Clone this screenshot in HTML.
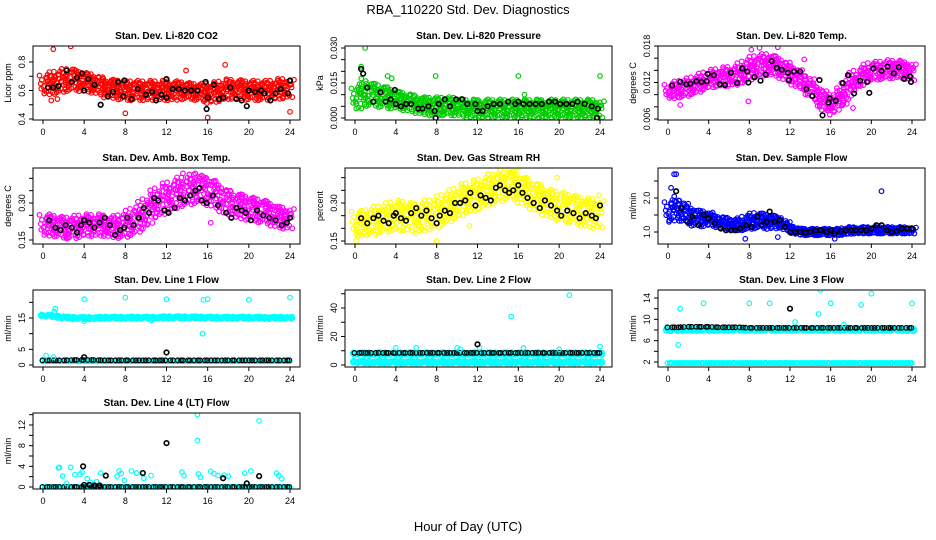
<!DOCTYPE html>
<html><head><meta charset="utf-8"><style>
body{margin:0;background:#fff}
svg{display:block;font-family:"Liberation Sans",sans-serif}
</style></head><body>
<svg id="chart" width="936" height="540" viewBox="0 0 936 540">
<text x="468" y="14" text-anchor="middle" font-size="13">RBA_110220  Std. Dev. Diagnostics</text>
<text x="468" y="531" text-anchor="middle" font-size="13">Hour of Day (UTC)</text>
</svg>
<script>
// ---- data (hour of day grids and estimated values) ----
const hours = [0,1,2,3,4,5,6,7,8,9,10,11,12,13,14,15,16,17,18,19,20,21,22,23,24];
const xTicks = [0,4,8,12,16,20,24];

const co2Center = [0.64,0.65,0.67,0.68,0.66,0.65,0.62,0.61,0.60,0.60,0.60,0.60,0.60,0.60,0.60,0.59,0.58,0.59,0.61,0.61,0.60,0.60,0.60,0.61,0.62];
const co2Spread = [0.07,0.08,0.08,0.08,0.07,0.07,0.07,0.07,0.07,0.07,0.07,0.07,0.07,0.07,0.06,0.06,0.07,0.07,0.07,0.07,0.07,0.07,0.07,0.07,0.07];
const co2OutX = [1,2.7,8,16,17.7,24,13.9,0.8,1.4];
const co2OutY = [0.89,0.91,0.44,0.41,0.78,0.45,0.74,0.53,0.54];
const co2BlackX = [0.5,1,1.5,2.3,2.8,3.3,3.8,4,4.4,5,5.6,6.3,6.8,7.3,7.9,7.8,8.6,9.2,10,10.6,11,11.5,12,12,12.6,13.2,13.8,14.4,15,15.8,16,15.9,16.6,17.1,17.5,18.2,18.8,19.3,19.8,20,20.6,21.2,21.5,22.1,22.6,23.1,23.8,24];
const co2BlackY = [0.62,0.62,0.63,0.74,0.66,0.69,0.72,0.6,0.68,0.64,0.5,0.56,0.59,0.66,0.67,0.56,0.54,0.61,0.57,0.59,0.53,0.57,0.55,0.68,0.61,0.61,0.6,0.6,0.6,0.66,0.55,0.47,0.64,0.54,0.55,0.62,0.54,0.53,0.49,0.6,0.59,0.6,0.58,0.53,0.58,0.61,0.58,0.67];

const presCenter = [0.008,0.011,0.010,0.009,0.008,0.007,0.006,0.005,0.005,0.005,0.005,0.004,0.004,0.004,0.004,0.004,0.004,0.004,0.004,0.004,0.004,0.004,0.004,0.004,0.004];
const presSpread = [0.005,0.006,0.005,0.005,0.004,0.004,0.004,0.004,0.004,0.004,0.004,0.004,0.004,0.004,0.004,0.004,0.004,0.004,0.004,0.004,0.004,0.004,0.004,0.004,0.004];
const presOutX = [0.2,1,0.6,7.9,16,24,3.2,3.6,16.6];
const presOutY = [0.012,0.030,0.022,0.018,0.018,0.018,0.018,0.017,0.010];
const presBlackX = [0.6,0.8,1.2,1.8,2.5,3,3.5,3.9,4,4.5,5,5.5,6.2,6.6,7.2,7.8,7.9,8.2,8.8,9.3,9.9,10.5,11,11.8,12,12.5,13,13.6,14.2,15,15.7,16,16.5,17.1,17.7,18.3,19,19.6,20.1,20.7,21.3,21.8,22.5,23.2,23.8,23.7];
const presBlackY = [0.021,0.019,0.013,0.007,0.011,0.007,0.008,0.012,0.006,0.005,0.006,0.006,0.004,0.004,0.005,0.003,0.000,0.006,0.008,0.005,0.008,0.008,0.006,0.006,0.003,0.003,0.005,0.006,0.006,0.007,0.006,0.007,0.006,0.006,0.006,0.006,0.007,0.007,0.006,0.006,0.006,0.007,0.006,0.005,0.004,0.000];

const tempCenter = [0.0105,0.0108,0.0112,0.0118,0.0125,0.0128,0.0130,0.0133,0.0142,0.0148,0.0150,0.0145,0.0135,0.0125,0.0112,0.0095,0.0083,0.0095,0.0118,0.0130,0.0138,0.0140,0.0142,0.0142,0.0138];
const tempSpread = [0.0012,0.0014,0.0014,0.0014,0.0014,0.0015,0.0016,0.0017,0.0018,0.0018,0.0018,0.0018,0.0017,0.0017,0.0017,0.0017,0.0016,0.0016,0.0016,0.0015,0.0015,0.0015,0.0015,0.0015,0.0015];
const tempOutX = [1.2,8.2,9,10.8,15.1,17.6,18.2,7.9,13.4];
const tempOutY = [0.0083,0.0174,0.0177,0.0178,0.0075,0.0085,0.0078,0.0089,0.0158];
const tempBlackX = [0.4,1.2,1.8,2.2,2.8,3.3,3.8,3.9,4.5,5.1,5.6,6.2,6.8,7.3,7.8,7.9,8.5,9.1,9.6,10.2,10.7,11.2,11.8,11.9,12.4,13,13.6,14.2,14.9,15.2,15.8,15.9,16.5,17.2,17.7,18.3,18.9,19.6,19.8,20.2,21,21.6,22.2,22.7,23.2,23.8,23.9];
const tempBlackY = [0.0115,0.0121,0.0117,0.0118,0.0122,0.0121,0.0122,0.0134,0.0132,0.0117,0.0116,0.0136,0.0119,0.0143,0.0138,0.0120,0.0129,0.0123,0.0133,0.0155,0.0144,0.0141,0.0136,0.0124,0.0138,0.0138,0.0109,0.0098,0.0124,0.0066,0.0087,0.0094,0.0090,0.0119,0.0132,0.0102,0.0123,0.0121,0.0103,0.0143,0.0139,0.0146,0.0135,0.0145,0.0126,0.0130,0.0121];

const ambCenter = [0.21,0.21,0.20,0.20,0.21,0.21,0.21,0.20,0.21,0.23,0.26,0.30,0.32,0.34,0.35,0.36,0.35,0.33,0.30,0.29,0.28,0.27,0.26,0.24,0.24];
const ambSpread = [0.045,0.045,0.045,0.045,0.045,0.045,0.045,0.045,0.05,0.055,0.06,0.06,0.06,0.06,0.06,0.06,0.06,0.06,0.055,0.055,0.05,0.05,0.05,0.045,0.045];
const ambOutX = [8,14.8,15.8,13.6,16.3,2.3];
const ambOutY = [0.11,0.42,0.40,0.42,0.22,0.16];
const ambBlackX = [0.6,1.2,1.7,2.2,2.8,3.3,3.7,4,4.5,5,5.5,6,6.5,7,7.5,7.9,8.2,8.8,9.3,9.8,10.3,10.8,11.2,11.8,12.2,12.8,13.3,13.8,14.3,14.8,15.2,15.4,15.9,16.5,17,17.8,18.3,18.8,19.3,19.7,20.2,20.8,21.4,22,22.6,23.2,23.7,24];
const ambBlackY = [0.23,0.20,0.19,0.21,0.20,0.18,0.21,0.23,0.22,0.20,0.22,0.24,0.21,0.17,0.19,0.20,0.24,0.21,0.24,0.28,0.26,0.32,0.31,0.27,0.26,0.28,0.32,0.31,0.33,0.35,0.36,0.31,0.30,0.33,0.29,0.26,0.24,0.28,0.27,0.26,0.23,0.27,0.25,0.24,0.23,0.21,0.22,0.24];

const rhCenter = [0.22,0.22,0.23,0.24,0.25,0.25,0.24,0.25,0.26,0.28,0.30,0.32,0.33,0.35,0.36,0.38,0.36,0.34,0.32,0.30,0.29,0.28,0.27,0.26,0.26];
const rhSpread = [0.05,0.05,0.055,0.055,0.06,0.06,0.06,0.06,0.06,0.06,0.06,0.06,0.06,0.06,0.06,0.06,0.06,0.06,0.06,0.06,0.06,0.06,0.06,0.06,0.06];
const rhOutX = [0.1,0.3,8,11.2,15.8,16.3,16,23.9,19.8];
const rhOutY = [0.15,0.17,0.15,0.21,0.45,0.47,0.44,0.33,0.40];
const rhBlackX = [0.6,1.2,1.8,2.3,2.8,3.3,3.8,4,4.5,5,5.5,6,6.5,7,7.5,8,8.3,8.8,9.3,9.8,10.3,10.8,11.3,11.8,12.3,12.8,13.3,13.8,14.2,14.7,15.1,15.5,16,16.4,16.9,17.5,18.1,18.6,19.2,19.8,20.2,20.8,21.4,22,22.6,23.2,23.6,24];
const rhBlackY = [0.24,0.22,0.24,0.25,0.23,0.22,0.25,0.26,0.24,0.23,0.26,0.28,0.25,0.27,0.24,0.22,0.25,0.27,0.26,0.30,0.30,0.31,0.34,0.29,0.33,0.32,0.31,0.36,0.37,0.35,0.34,0.35,0.37,0.34,0.32,0.30,0.28,0.31,0.29,0.27,0.25,0.27,0.26,0.24,0.26,0.25,0.24,0.29];

const flowCenter = [1.6,1.7,1.5,1.4,1.4,1.3,1.25,1.2,1.3,1.35,1.3,1.3,1.1,1.0,1.0,1.0,1.0,1.0,1.05,1.05,1.05,1.05,1.05,1.05,1.05];
const flowSpread = [0.3,0.35,0.3,0.25,0.22,0.18,0.18,0.18,0.22,0.24,0.22,0.18,0.12,0.1,0.1,0.1,0.1,0.1,0.1,0.1,0.1,0.1,0.1,0.1,0.1];
const flowOutX = [0.6,0.8,21,0.3,0.1,7.6,10.8,16.4];
const flowOutY = [2.7,2.7,2.2,2.3,1.3,0.8,0.85,0.8];
const flowBlackX = [0.8,1.3,1.9,2.4,3,3.5,4,4.6,5.2,5.7,6.2,6.6,7.1,7.7,8.2,8.8,9.2,9.7,10,10.5,11,11.5,12,12.5,13,13.5,14,14.5,15,15.6,16,16.4,17,17.5,18,18.5,19,19.5,20,20.5,21,21.5,22,22.5,23,23.5,24];
const flowBlackY = [2.2,1.7,1.3,1.45,1.2,1.5,1.4,1.25,1.1,1.05,1.05,1.05,1.1,1.2,1.15,1.45,1.2,1.3,1.6,1.3,1.35,1.15,1.0,1.0,1.0,0.98,1.0,1.05,1.05,1.0,1.05,0.95,1.02,1.05,1.05,1.05,1.05,1.05,1.1,1.2,1.2,1.05,1.0,1.02,1.1,1.1,1.1];

const l1HighCenter = [15.8,15.6,15.2,15.0,15.0,15.0,15.1,15.1,15.1,15.1,15.1,15.1,15.2,15.2,15.2,15.2,15.1,15.1,15.1,15.1,15.1,15.1,15.0,15.1,15.1];
const l1LowCenter = [1.2,1.2,1.2,1.2,1.2,1.2,1.2,1.2,1.2,1.2,1.2,1.2,1.2,1.2,1.2,1.2,1.2,1.2,1.2,1.2,1.2,1.2,1.2,1.2,1.2];
const l1BlackCenter = [1.5,1.5,1.5,1.6,1.6,1.6,1.5,1.5,1.5,1.5,1.5,1.5,1.5,1.5,1.5,1.5,1.5,1.5,1.5,1.5,1.5,1.5,1.5,1.5,1.5];
const l1OutX = [4,8,12,15.6,16,20,24,1.2,1.1,15.5,0.3,1,4,10.5];
const l1OutY = [21,21.5,21,20.8,21,20.8,21.5,18,17,10,3,2.5,14,14.3];
const l1BlackOutX = [12,4];
const l1BlackOutY = [4,2.5];

const l2HighCenter = [8,8,8,8,8,8,8,8,8,8,8,8,8,8,8,8,8,8,8,8,8,8,8,8,8];
const l2LowCenter = [2,2,2,2,2,2,2,2,2,2,2,2,2,2,2,2,2,2,2,2,2,2,2,2,2];
const l2BlackCenter = [8.5,8.5,8.5,8.5,8.5,8.5,8.5,8.5,8.5,8.5,8.5,8.5,8.5,8.5,8.5,8.5,8.5,8.5,8.5,8.5,8.5,8.5,8.5,8.5,8.5];
const l2OutX = [21,15.3,4,6,10,12.2,16.5,20,24,10.3];
const l2OutY = [49,34,12,12,12,12,12,11,13,11];
const l2BlackOutX = [12];
const l2BlackOutY = [14.5];

const l3HighCenter = [8.0,8.1,8.1,8.1,8.1,8.1,8.1,8.1,8.1,8.1,8.1,8.1,8.1,8.1,8.1,8.1,8.1,8.1,8.1,8.1,8.1,8.1,8.1,8.1,8.0];
const l3LowCenter = [1.8,1.8,1.8,1.8,1.8,1.8,1.8,1.8,1.8,1.8,1.8,1.8,1.8,1.8,1.8,1.8,1.8,1.8,1.8,1.8,1.8,1.8,1.8,1.8,1.8];
const l3BlackCenter = [8.5,8.5,8.6,8.6,8.6,8.5,8.5,8.5,8.4,8.4,8.4,8.4,8.4,8.4,8.4,8.4,8.4,8.4,8.4,8.4,8.4,8.4,8.4,8.4,8.4];
const l3OutX = [1.2,1,3.5,8,10,15,14.8,16,19,20,24,17.3,12.5];
const l3OutY = [12,5.2,13,13,13,15.5,11,13,12.7,14.8,13,9,9.5];
const l3BlackOutX = [12];
const l3BlackOutY = [12];

const l4BaseCenter = [0,0,0,0,0,0,0,0,0,0,0,0,0,0,0,0,0,0,0,0,0,0,0,0,0];
const l4CyanX = [15,15,21,1.5,1.6,2.7,3.1,3.6,3.8,4.3,5.6,7.2,7.4,7.6,8.6,9.1,9.8,10.5,13.5,13.7,15.1,15.3,16.3,16.6,17,17.6,18,19.6,20.2,22.7,22.9,23.2,1.9,2.3,4.6,5.2,7.9];
const l4CyanY = [14,9,12.8,3.7,3.8,3.8,2.4,2.5,2.9,1.6,2.7,2.1,3.1,2.6,3.1,2.7,1.7,2.2,2.9,2.2,2.5,1.9,3,2.6,2.2,2.3,2.1,2.7,3.1,2.7,2.2,1.6,2.1,0.7,0.9,1.0,1.3];
const l4BlackX = [12,3.9,9.7,6.1,17.5,21,19.8,4,4.5,5,5.5];
const l4BlackY = [8.5,4,2.7,2.2,1.7,2.1,0.7,0.4,0.4,0.3,0.3];

// ---- drawing helpers ----
const NS = 'http://www.w3.org/2000/svg';
const svg = document.getElementById('chart');
const jitter = [0.12,-0.71,0.48,-0.22,0.93,-0.41,0.67,-0.88,0.05,0.36,-0.57,0.79,-0.14,0.27,-0.95,0.58,-0.33,0.84,-0.66,0.19,-0.05,0.44,-0.79,0.71,-0.29,0.99,-0.52,0.31,-0.18,0.62,-0.98];
function mk(tag, attrs, parent){const e=document.createElementNS(NS,tag);for(const k in attrs)e.setAttribute(k,attrs[k]);(parent||svg).appendChild(e);return e;}
function interp(xs, ys, x){for(let i=0;i<xs.length-1;i++){if(x<=xs[i+1]){const t=(x-xs[i])/(xs[i+1]-xs[i]);return ys[i]+t*(ys[i+1]-ys[i]);}}return ys[ys.length-1];}

function panel(cfg){
  const g = mk('g',{});
  
  
  const xs = v => cfg.x0 + (v/24)*(cfg.x24-cfg.x0);
  const ys = v => cfg.pa + (v-cfg.va)*(cfg.pb-cfg.pa)/(cfg.vb-cfg.va);
  const L=cfg.left,R=cfg.right,T=cfg.top,B=cfg.bottom;
  const t = mk('text',{x:(L+R)/2,y:T-7,'text-anchor':'middle','font-size':10,'font-weight':'bold'},g);
  t.textContent = cfg.title;
  
  
  const xa = mk('g',{},g);
  
  
  xTicks.forEach(v=>{const x=xs(v);mk('line',{x1:x,x2:x,y1:B,y2:B+4,stroke:'#000'},xa);const tx=mk('text',{x:x,y:B+15,'text-anchor':'middle','font-size':9},xa);tx.textContent=v;});
  const ya = mk('g',{},g);
  
  
  cfg.yTicks.forEach(v=>{const y=ys(v);mk('line',{x1:L-4,x2:L,y1:y,y2:y,stroke:'#000'},ya);});
  cfg.yLabels.forEach((s,i)=>{const y=ys(cfg.yLabelVals[i]);const tx=mk('text',{x:L-8,y:y,'text-anchor':'middle','font-size':9,transform:`rotate(-90 ${L-8} ${y})`},ya);tx.textContent=s;});
  const yl = mk('text',{x:L-22,y:(T+B)/2,'text-anchor':'middle','font-size':9,transform:`rotate(-90 ${L-22} ${(T+B)/2})`},g);
  yl.textContent = cfg.ylab;
  
  
  const cid='c'+cfg.name;
  const cp=mk('clipPath',{id:cid},g);mk('rect',{x:L,y:T,width:R-L,height:B-T},cp);
  const pg = mk('g',{'clip-path':`url(#${cid})`},g);
  
  
  const dot=(x,y,c,w)=>{const e=mk('circle',{cx:x,cy:y,r:2.3,fill:'none',stroke:c,'stroke-width':w||1.2},pg);};
  (cfg.clouds||[]).forEach(cl=>{
    const n=cl.per||(cl.spread?5:10), rows=cl.rows||3, xj=cl.spread?4:1; let k=0;
    for(let i=0;i<=24*n;i++){const h=i/n;const c=interp(hours,cl.center,h);const s=cl.spread?interp(hours,cl.spread,h):0;
      for(let r=0;r<rows;r++){const j=jitter[(k++)%jitter.length];dot(xs(h)+jitter[(k*7+3)%jitter.length]*xj,ys(c+j*s),cl.color);}}
  });
  (cfg.pts||[]).forEach(p=>{p.x.forEach((h,i)=>dot(xs(h),ys(p.y[i]),p.color,p.color==='#000'?1.6:1.2));});
  mk('rect',{x:L,y:T,width:R-L,height:B-T,fill:'none',stroke:'#000'},g);
}

const C1={left:33,right:300,x0:43,x24:290}, C2={left:345,right:612,x0:355,x24:600}, C3={left:658,right:925,x0:668,x24:912};
const R1={top:46,bottom:120},R2={top:168,bottom:244},R3={top:290,bottom:367},R4={top:413,bottom:489};

panel({name:'panel-co2',title:'Stan. Dev. Li-820 CO2',ylab:'Licor ppm',...C1,...R1,va:0.4,pa:119,vb:0.8,pb:62,
  yTicks:[0.4,0.5,0.6,0.7,0.8],yLabelVals:[0.4,0.6,0.8],yLabels:['0.4','0.6','0.8'],
  clouds:[{center:co2Center,spread:co2Spread,color:'#f00',rows:5}],
  pts:[{x:co2OutX,y:co2OutY,color:'#f00'},{x:co2BlackX,y:co2BlackY,color:'#000'}]});
panel({name:'panel-pressure',title:'Stan. Dev. Li-820 Pressure',ylab:'kPa',...C2,...R1,va:0,pa:118,vb:0.03,pb:48,
  yTicks:[0,0.005,0.01,0.015,0.02,0.025,0.03],yLabelVals:[0,0.015,0.03],yLabels:['0.000','0.015','0.030'],
  clouds:[{center:presCenter,spread:presSpread,color:'#0c0',rows:5}],
  pts:[{x:presOutX,y:presOutY,color:'#0c0'},{x:presBlackX,y:presBlackY,color:'#000'}]});
panel({name:'panel-temp',title:'Stan. Dev. Li-820 Temp.',ylab:'degrees C',...C3,...R1,va:0.006,pa:119,vb:0.018,pb:46,
  yTicks:[0.006,0.008,0.01,0.012,0.014,0.016,0.018],yLabelVals:[0.006,0.012,0.018],yLabels:['0.006','0.012','0.018'],
  clouds:[{center:tempCenter,spread:tempSpread,color:'#f0f',rows:5}],
  pts:[{x:tempOutX,y:tempOutY,color:'#f0f'},{x:tempBlackX,y:tempBlackY,color:'#000'}]});
panel({name:'panel-amb-box-temp',title:'Stan. Dev. Amb. Box Temp.',ylab:'degrees C',...C1,...R2,va:0.15,pa:240,vb:0.30,pb:203,
  yTicks:[0.15,0.2,0.25,0.3,0.35,0.4],yLabelVals:[0.15,0.30],yLabels:['0.15','0.30'],
  clouds:[{center:ambCenter,spread:ambSpread,color:'#f0f',rows:5}],
  pts:[{x:ambOutX,y:ambOutY,color:'#f0f'},{x:ambBlackX,y:ambBlackY,color:'#000'}]});
panel({name:'panel-gas-rh',title:'Stan. Dev. Gas Stream RH',ylab:'percent',...C2,...R2,va:0.15,pa:241,vb:0.30,pb:203,
  yTicks:[0.15,0.2,0.25,0.3,0.35,0.4],yLabelVals:[0.15,0.30],yLabels:['0.15','0.30'],
  clouds:[{center:rhCenter,spread:rhSpread,color:'#ff0',rows:5}],
  pts:[{x:rhOutX,y:rhOutY,color:'#ff0'},{x:rhBlackX,y:rhBlackY,color:'#000'}]});
panel({name:'panel-sample-flow',title:'Stan. Dev. Sample Flow',ylab:'ml/min',...C3,...R2,va:1.0,pa:232,vb:2.0,pb:198,
  yTicks:[1.0,1.5,2.0,2.5],yLabelVals:[1.0,2.0],yLabels:['1.0','2.0'],
  clouds:[{center:flowCenter,spread:flowSpread,color:'#00f',rows:5}],
  pts:[{x:flowOutX,y:flowOutY,color:'#00f'},{x:flowBlackX,y:flowBlackY,color:'#000'}]});
panel({name:'panel-line1-flow',title:'Stan. Dev. Line 1 Flow',ylab:'ml/min',...C1,...R3,va:0,pa:365,vb:15,pb:318,
  yTicks:[0,5,10,15,20],yLabelVals:[0,5,15],yLabels:['0','5','15'],
  clouds:[{center:l1HighCenter,color:'#0ff',rows:2,per:10,spread:[0.4,0.4,0.4,0.4,0.4,0.4,0.4,0.4,0.4,0.4,0.4,0.4,0.4,0.4,0.4,0.4,0.4,0.4,0.4,0.4,0.4,0.4,0.4,0.4,0.4]},{center:l1LowCenter,color:'#0ff',rows:1},{center:l1BlackCenter,color:'#000',per:3,rows:1}],
  pts:[{x:l1OutX,y:l1OutY,color:'#0ff'},{x:l1BlackOutX,y:l1BlackOutY,color:'#000'}]});
panel({name:'panel-line2-flow',title:'Stan. Dev. Line 2 Flow',ylab:'ml/min',...C2,...R3,va:0,pa:365,vb:40,pb:308,
  yTicks:[0,10,20,30,40,50],yLabelVals:[0,20,40],yLabels:['0','20','40'],
  clouds:[{center:l2HighCenter,color:'#0ff',rows:2,per:10,spread:[1,1,1,1,1,1,1,1,1,1,1,1,1,1,1,1,1,1,1,1,1,1,1,1,1]},{center:l2LowCenter,color:'#0ff',rows:2,per:10,spread:[1,1,1,1,1,1,1,1,1,1,1,1,1,1,1,1,1,1,1,1,1,1,1,1,1]},{center:l2BlackCenter,color:'#000',per:3,rows:1}],
  pts:[{x:l2OutX,y:l2OutY,color:'#0ff'},{x:l2BlackOutX,y:l2BlackOutY,color:'#000'}]});
panel({name:'panel-line3-flow',title:'Stan. Dev. Line 3 Flow',ylab:'ml/min',...C3,...R3,va:2,pa:362,vb:14,pb:298,
  yTicks:[2,4,6,8,10,12,14],yLabelVals:[2,6,10,14],yLabels:['2','6','10','14'],
  clouds:[{center:l3HighCenter,color:'#0ff',rows:2,per:10,spread:[0.3,0.3,0.3,0.3,0.3,0.3,0.3,0.3,0.3,0.3,0.3,0.3,0.3,0.3,0.3,0.3,0.3,0.3,0.3,0.3,0.3,0.3,0.3,0.3,0.3]},{center:l3LowCenter,color:'#0ff',rows:1},{center:l3BlackCenter,color:'#000',per:3,rows:1}],
  pts:[{x:l3OutX,y:l3OutY,color:'#0ff'},{x:l3BlackOutX,y:l3BlackOutY,color:'#000'}]});
panel({name:'panel-line4-flow',title:'Stan. Dev. Line 4 (LT) Flow',ylab:'ml/min',...C1,...R4,va:0,pa:487,vb:12,pb:425,
  yTicks:[0,2,4,6,8,10,12,14],yLabelVals:[0,4,8,12],yLabels:['0','4','8','12'],
  clouds:[{center:l4BaseCenter,color:'#0ff',rows:1},{center:l4BaseCenter,color:'#000',per:3,rows:1}],
  pts:[{x:l4CyanX,y:l4CyanY,color:'#0ff'},{x:l4BlackX,y:l4BlackY,color:'#000'}]});
</script>
</body></html>
